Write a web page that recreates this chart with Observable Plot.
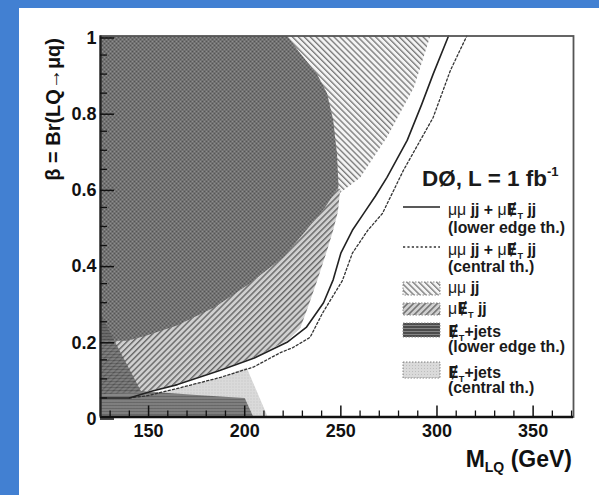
<!DOCTYPE html>
<html>
<head>
<meta charset="utf-8">
<script src="https://cdn.jsdelivr.net/npm/d3@7"></script>
<script src="https://cdn.jsdelivr.net/npm/@observablehq/plot@0.6"></script>
<style>
  html, body { margin: 0; padding: 0; width: 599px; height: 495px; overflow: hidden; background: #4280d2; }
  #panel { position: absolute; left: 19px; top: 8px; width: 580px; height: 487px; background: #fff; }
  #panel svg g[aria-label="x-axis tick label"] text,
  #panel svg g[aria-label="y-axis tick label"] text { font-weight: bold; }
</style>
</head>
<body>
<div id="panel"></div>
<script>
// Axis ranges and ticks
const massRange = [125, 371];
const betaRange = [0, 1];
const massMajorTicks = [150, 200, 250, 300, 350];
const massMinorTicks = [130, 140, 160, 170, 180, 190, 210, 220, 230, 240, 260, 270, 280, 290, 310, 320, 330, 340, 360, 370];
const betaMajorTicks = [0, 0.2, 0.4, 0.6, 0.8, 1];
const betaTickLabels = ["0", "0.2", "0.4", "0.6", "0.8", "1"];
const betaMinorTicks = [0.05, 0.1, 0.15, 0.25, 0.3, 0.35, 0.45, 0.5, 0.55, 0.65, 0.7, 0.75, 0.85, 0.9, 0.95];

// mu mu jj excluded region (outline, GeV vs beta)
const mumuMass = [125, 296.5, 288, 274, 260, 250, 248, 230, 200, 160, 125];
const mumuBeta = [1, 1, 0.865, 0.734, 0.628, 0.59, 0.58, 0.52, 0.42, 0.35, 0.35];

// mu nu jj excluded band
const munuMass = [249.7, 248.5, 246, 243, 237.7, 233, 229, 222, 205, 187, 165, 152, 147, 125, 125, 200, 240];
const munuBeta = [0.6, 0.54, 0.49, 0.44, 0.358, 0.29, 0.235, 0.2, 0.157, 0.124, 0.087, 0.07, 0.065, 0.06, 0.3, 0.45, 0.58];

// region excluded by all channels together
const coreMass = [125, 222, 229, 237.6, 242.8, 246, 248, 248.8, 241.9, 232, 220.2, 202.4, 184.6, 164.8, 149, 139, 125];
const coreBeta = [1, 1, 0.954, 0.9, 0.85, 0.78, 0.69, 0.604, 0.551, 0.49, 0.42, 0.35, 0.289, 0.24, 0.214, 0.2, 0.2];

// missing-ET + jets, central theory
const metCentralMass = [125, 212, 201, 187.4, 166.6, 149.5, 140, 125];
const metCentralBeta = [0, 0, 0.13, 0.104, 0.077, 0.056, 0.05, 0.05];

// missing-ET + jets, lower edge of theory
const metLowerMass = [125, 125, 146, 175, 200, 204.5];
const metLowerBeta = [0, 0.27, 0.068, 0.058, 0.05, 0];

// combined limit, lower edge of theory
const combLowerMass = [125, 140, 152, 165, 187, 205, 222, 232, 241, 246, 250, 256, 262, 268, 274, 284.5, 292, 298, 306];
const combLowerBeta = [0.05, 0.05, 0.068, 0.085, 0.122, 0.155, 0.196, 0.235, 0.3, 0.36, 0.43, 0.49, 0.535, 0.58, 0.629, 0.726, 0.82, 0.9, 1.0];

// combined limit, central theory
const combCentralMass = [140, 149.5, 166.6, 187.4, 204.5, 218.6, 225, 234, 240.4, 244.5, 250.8, 256, 264, 271.6, 282.5, 298, 307, 315.5];
const combCentralBeta = [0.05, 0.056, 0.077, 0.104, 0.131, 0.169, 0.182, 0.209, 0.272, 0.306, 0.358, 0.43, 0.49, 0.534, 0.647, 0.786, 0.91, 1.0];

const rows = (ms, bs) => ms.map((m, i) => ({m, b: bs[i]}));

const font = "'Liberation Sans', Arial, Helvetica, sans-serif";

const chart = Plot.plot({
  width: 580,
  height: 487,
  marginLeft: 81,
  marginRight: 26,
  marginTop: 27.5,
  marginBottom: 78.5,
  x: {domain: massRange},
  y: {domain: betaRange},
  style: {fontFamily: font, fontSize: "18px", color: "#111", background: "transparent"},
  marks: [
    Plot.line(rows(mumuMass, mumuBeta), {x: "m", y: "b", fill: "url(#hatchBack)", stroke: "none"}),
    Plot.line(rows(munuMass, munuBeta), {x: "m", y: "b", fill: "url(#hatchFwd)", stroke: "none"}),
    Plot.line(rows(metCentralMass, metCentralBeta), {x: "m", y: "b", fill: "url(#lightDots)", stroke: "none"}),
    Plot.line(rows(coreMass, coreBeta), {x: "m", y: "b", fill: "url(#checker)", stroke: "none"}),
    Plot.line(rows(metLowerMass, metLowerBeta), {x: "m", y: "b", fill: "url(#darkStripes)", fillOpacity: 0.8, stroke: "none"}),
    Plot.line(rows(combCentralMass, combCentralBeta), {x: "m", y: "b", stroke: "#333", strokeWidth: 1.3, strokeDasharray: "2.2,2.2"}),
    Plot.line(rows(combLowerMass, combLowerBeta), {x: "m", y: "b", stroke: "#222", strokeWidth: 1.6}),
    Plot.frame({stroke: "#555", strokeWidth: 1.8}),
    Plot.ruleY([betaRange[0]], {stroke: "#111", strokeWidth: 2.6}),
    Plot.ruleX([massRange[0]], {stroke: "#222", strokeWidth: 2.2}),
    Plot.axisX(massMajorTicks, {tickSize: -11, tickPadding: 18, strokeWidth: 1.5, stroke: "#111", label: null}),
    Plot.axisX(massMinorTicks, {tickSize: -6, tickFormat: () => "", strokeWidth: 1.3, stroke: "#111", label: null}),
    Plot.axisY(betaMajorTicks, {tickSize: -14, tickPadding: 18, dy: 2, strokeWidth: 1.5, stroke: "#111", label: null,
      tickFormat: (d) => betaTickLabels[betaMajorTicks.indexOf(d)]}),
    Plot.axisY(betaMinorTicks, {tickSize: -7, tickFormat: () => "", strokeWidth: 1.3, stroke: "#111", label: null})
  ]
});

document.getElementById("panel").appendChild(chart);

// fill patterns for the exclusion regions
const svg = d3.select(chart);
const defs = svg.insert("defs", ":first-child");

function hatch(id, angle, bg, line, width, spacing) {
  const p = defs.append("pattern").attr("id", id).attr("patternUnits", "userSpaceOnUse")
    .attr("width", spacing).attr("height", spacing).attr("patternTransform", `rotate(${angle})`);
  p.append("rect").attr("width", spacing).attr("height", spacing).attr("fill", bg);
  p.append("line").attr("x1", 0.5).attr("y1", 0).attr("x2", 0.5).attr("y2", spacing)
    .attr("stroke", line).attr("stroke-width", width);
}
hatch("hatchBack", -45, "#f4f4f4", "#7a7a7a", 1.7, 4.2);
hatch("hatchFwd", 45, "#d0d0d0", "#6a6a6a", 1.9, 4.2);

const chk = defs.append("pattern").attr("id", "checker").attr("patternUnits", "userSpaceOnUse")
  .attr("width", 4).attr("height", 4);
chk.append("rect").attr("width", 4).attr("height", 4).attr("fill", "#555");
chk.append("rect").attr("width", 2).attr("height", 2).attr("fill", "#8e8e8e");
chk.append("rect").attr("x", 2).attr("y", 2).attr("width", 2).attr("height", 2).attr("fill", "#8e8e8e");

const stripes = defs.append("pattern").attr("id", "darkStripes").attr("patternUnits", "userSpaceOnUse")
  .attr("width", 4).attr("height", 3);
stripes.append("rect").attr("width", 4).attr("height", 3).attr("fill", "#4c4c4c");
stripes.append("rect").attr("y", 2).attr("width", 4).attr("height", 1).attr("fill", "#858585");

const dots = defs.append("pattern").attr("id", "lightDots").attr("patternUnits", "userSpaceOnUse")
  .attr("width", 3).attr("height", 3);
dots.append("rect").attr("width", 3).attr("height", 3).attr("fill", "#dadada");
dots.append("rect").attr("width", 1).attr("height", 1).attr("fill", "#bdbdbd");

// axis titles
const yTitle = svg.append("text")
  .attr("transform", "translate(41,30) rotate(-90)")
  .attr("text-anchor", "end")
  .attr("font-family", font).attr("font-weight", "bold").attr("font-size", 20).attr("fill", "#111");
yTitle.append("tspan").text("β = Br(LQ→μq)");

const xTitle = svg.append("text")
  .attr("x", 553).attr("y", 459)
  .attr("text-anchor", "end")
  .attr("font-family", font).attr("font-weight", "bold").attr("font-size", 23).attr("fill", "#111");
xTitle.append("tspan").text("M");
xTitle.append("tspan").attr("font-size", 14).attr("dy", 5).text("LQ");
xTitle.append("tspan").attr("dy", -5).text(" (GeV)");

// legend
const legend = svg.append("g").attr("font-family", font).attr("fill", "#1a1a1a").attr("text-anchor", "start");

// pick a text size so that a reference line spans the wanted width
function fitSize(text, weight, base, target) {
  const probe = legend.append("text").attr("font-size", base).attr("font-weight", weight).text(text);
  const w = probe.node().getComputedTextLength();
  probe.remove();
  return w > 0 ? base * target / w : base;
}

const headSize = fitSize("DØ, L = 1 fb", "bold", 21, 125);
const fs = fitSize("(lower edge th.)", "bold", 15.5, 117);

const head = legend.append("text").attr("x", 403).attr("y", 178).attr("font-weight", "bold").attr("font-size", headSize);
head.append("tspan").text("DØ, L = 1 fb");
head.append("tspan").attr("font-size", headSize * 0.58).attr("dy", -headSize * 0.43).text("-1");

// slashed E with subscript T (missing transverse energy)
function missingEt(t) {
  t.append("tspan").attr("font-family", "'DejaVu Sans', sans-serif").text("Ɇ");
  t.append("tspan").attr("font-size", fs * 0.58).attr("dy", fs * 0.26).text("T");
}
function textAt(y) {
  return legend.append("text").attr("x", 429).attr("y", y).attr("font-size", fs).attr("font-weight", "bold");
}
function channelLine(y) {
  const t = textAt(y);
  t.append("tspan").attr("font-weight", "normal").text("μμ");
  t.append("tspan").text(" jj + ");
  t.append("tspan").attr("font-weight", "normal").text("μ");
  missingEt(t);
  t.append("tspan").attr("dy", -fs * 0.26).text(" jj");
}
function note(y, label) {
  textAt(y).text(label);
}
function metLine(y) {
  const t = textAt(y);
  missingEt(t);
  t.append("tspan").attr("dy", -fs * 0.26).text("+jets");
}

legend.append("line").attr("x1", 384).attr("x2", 421).attr("y1", 199).attr("y2", 199).attr("stroke", "#222").attr("stroke-width", 1.6);
channelLine(207);
note(225, "(lower edge th.)");

legend.append("line").attr("x1", 384).attr("x2", 421).attr("y1", 239).attr("y2", 239).attr("stroke", "#333").attr("stroke-width", 1.3).attr("stroke-dasharray", "2.2,2.2");
channelLine(247);
note(264, "(central th.)");

function swatch(y, h, fill) {
  legend.append("rect").attr("x", 384).attr("y", y).attr("width", 37).attr("height", h)
    .attr("fill", fill).attr("stroke", "#888").attr("stroke-width", 1).attr("stroke-dasharray", "1.5,1.5");
}
swatch(274, 13, "url(#hatchBack)");
{
  const t = textAt(285);
  t.append("tspan").attr("font-weight", "normal").text("μμ");
  t.append("tspan").text(" jj");
}
swatch(295, 12, "url(#hatchFwd)");
{
  const t = textAt(306);
  t.append("tspan").attr("font-weight", "normal").text("μ");
  missingEt(t);
  t.append("tspan").attr("dy", -fs * 0.26).text(" jj");
}
swatch(315, 14, "url(#darkStripes)");
metLine(329);
note(344, "(lower edge th.)");
swatch(354, 16, "url(#lightDots)");
metLine(370);
note(385, "(central th.)");
</script>
</body>
</html>
